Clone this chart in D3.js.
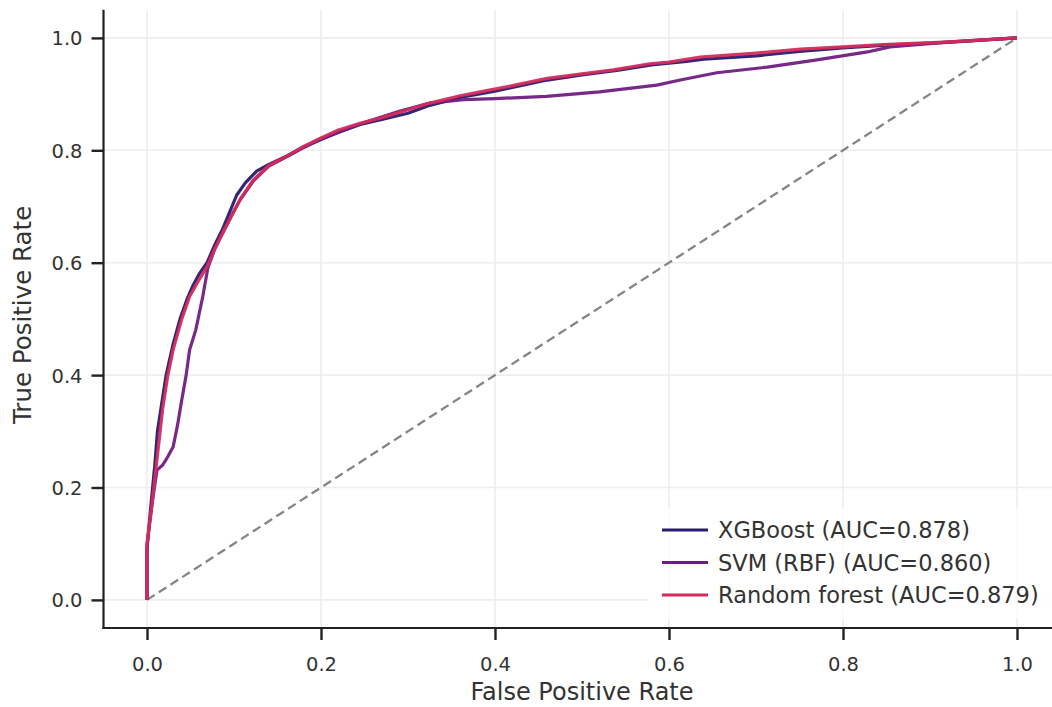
<!DOCTYPE html>
<html>
<head>
<meta charset="utf-8">
<script src="https://cdn.jsdelivr.net/npm/d3@7"></script>
<style>
  html, body { margin: 0; padding: 0; background: #ffffff; }
  svg { display: block; }
  text { font-family: "DejaVu Sans", sans-serif; }
</style>
</head>
<body>
<svg id="chart" width="1052" height="707"></svg>
<script>
// ---------- data ----------
const seriesNames = ["XGBoost", "SVM (RBF)", "Random forest"];
const aucValues = [0.878, 0.860, 0.879];
const tickValues = [0.0, 0.2, 0.4, 0.6, 0.8, 1.0];
const tickLabels = ["0.0", "0.2", "0.4", "0.6", "0.8", "1.0"];

const xgbFpr = [0, 0, 0.004, 0.009, 0.012, 0.016, 0.022, 0.030, 0.038, 0.046, 0.053, 0.060, 0.069, 0.078, 0.087, 0.095, 0.103, 0.113, 0.126, 0.140, 0.161, 0.18, 0.20, 0.22, 0.245, 0.27, 0.30, 0.325, 0.36, 0.40, 0.42, 0.46, 0.50, 0.54, 0.58, 0.62, 0.64, 0.70, 0.75, 0.80, 0.85, 0.92, 1.0];
const xgbTpr = [0, 0.09, 0.16, 0.24, 0.30, 0.34, 0.40, 0.455, 0.50, 0.535, 0.56, 0.58, 0.60, 0.632, 0.66, 0.69, 0.72, 0.742, 0.763, 0.775, 0.79, 0.806, 0.819, 0.832, 0.846, 0.855, 0.866, 0.880, 0.894, 0.905, 0.912, 0.925, 0.934, 0.942, 0.952, 0.958, 0.962, 0.968, 0.976, 0.982, 0.987, 0.992, 1.0];

const svmFpr = [0, 0, 0.006, 0.0115, 0.018, 0.024, 0.030, 0.035, 0.040, 0.045, 0.049, 0.056, 0.064, 0.070, 0.078, 0.087, 0.097, 0.107, 0.122, 0.14, 0.161, 0.18, 0.20, 0.245, 0.291, 0.325, 0.364, 0.40, 0.459, 0.52, 0.586, 0.613, 0.655, 0.713, 0.770, 0.828, 0.854, 0.923, 1.0];
const svmTpr = [0, 0.098, 0.173, 0.231, 0.240, 0.255, 0.272, 0.31, 0.356, 0.40, 0.445, 0.48, 0.539, 0.591, 0.625, 0.653, 0.683, 0.712, 0.745, 0.772, 0.789, 0.805, 0.82, 0.847, 0.870, 0.884, 0.890, 0.892, 0.896, 0.904, 0.916, 0.925, 0.938, 0.948, 0.961, 0.975, 0.984, 0.993, 1.0];

const rfFpr = [0, 0, 0.006, 0.0115, 0.018, 0.024, 0.030, 0.040, 0.049, 0.06, 0.069, 0.078, 0.087, 0.097, 0.107, 0.122, 0.14, 0.161, 0.18, 0.20, 0.22, 0.245, 0.27, 0.30, 0.325, 0.36, 0.383, 0.42, 0.46, 0.50, 0.536, 0.578, 0.60, 0.636, 0.70, 0.751, 0.80, 0.846, 0.923, 1.0];
const rfTpr = [0, 0.10, 0.173, 0.25, 0.34, 0.40, 0.445, 0.50, 0.54, 0.57, 0.593, 0.625, 0.653, 0.683, 0.712, 0.747, 0.773, 0.79, 0.807, 0.822, 0.836, 0.848, 0.858, 0.872, 0.884, 0.897, 0.904, 0.915, 0.928, 0.936, 0.943, 0.954, 0.957, 0.966, 0.973, 0.980, 0.984, 0.988, 0.993, 1.0];

const chanceLine = [0, 1];

// ---------- drawing ----------
(function () {
  const svg = d3.select("#chart");
  const L = 103.5, R = 1060.5, T = 9.8, B = 628;
  const colors = ["#2a1a6c", "#6f1e80", "#d42b5c"];

  const x = d3.scaleLinear().domain([-0.05, 1.05]).range([L, R]);
  const y = d3.scaleLinear().domain([-0.05, 1.05]).range([B, T]);

  // grid
  const grid = svg.append("g");
  grid.selectAll("line.gx").data(tickValues).join("line").attr("class", "gx")
    .attr("x1", d => x(d)).attr("x2", d => x(d))
    .attr("y1", T).attr("y2", B)
    .attr("stroke", "#eeeeee").attr("stroke-width", 1.6);
  grid.selectAll("line.gy").data(tickValues).join("line").attr("class", "gy")
    .attr("x1", L).attr("x2", R)
    .attr("y1", d => y(d)).attr("y2", d => y(d))
    .attr("stroke", "#eeeeee").attr("stroke-width", 1.6);

  // curves
  const series = [
    xgbFpr.map((f, i) => [f, xgbTpr[i]]),
    svmFpr.map((f, i) => [f, svmTpr[i]]),
    rfFpr.map((f, i) => [f, rfTpr[i]])
  ];
  const line = d3.line().x(d => x(d[0])).y(d => y(d[1]));

  svg.append("path")
    .attr("d", line(chanceLine.map(v => [v, v])))
    .attr("fill", "none").attr("stroke", "#858585")
    .attr("stroke-width", 2.3).attr("stroke-dasharray", "9,5");

  series.forEach((s, i) => {
    svg.append("path")
      .attr("d", line(s))
      .attr("fill", "none")
      .attr("stroke", colors[i])
      .attr("stroke-width", 3.2)
      .attr("stroke-linejoin", "round")
      .attr("stroke-opacity", 0.95);
  });

  // axes
  const xAxis = d3.axisBottom(x).tickValues(tickValues).tickFormat((d, i) => tickLabels[i]).tickSize(12).tickSizeOuter(0);
  const yAxis = d3.axisLeft(y).tickValues(tickValues).tickFormat((d, i) => tickLabels[i]).tickSize(12).tickSizeOuter(0);

  const gx = svg.append("g").attr("transform", `translate(0,${B})`).call(xAxis);
  const gy = svg.append("g").attr("transform", `translate(${L},0)`).call(yAxis);

  gx.select(".domain").remove();
  gy.select(".domain").remove();
  svg.append("line").attr("x1", L - 1).attr("x2", R).attr("y1", B).attr("y2", B)
    .attr("stroke", "#222").attr("stroke-width", 2.2);
  svg.append("line").attr("x1", L).attr("x2", L).attr("y1", T).attr("y2", B + 1)
    .attr("stroke", "#222").attr("stroke-width", 2.2);

  [gx, gy].forEach(g => {
    g.selectAll(".tick line").attr("stroke", "#222").attr("stroke-width", 2.4);
    g.selectAll(".tick text").attr("fill", "#333").style("font-size", "19.5px")
      .style("font-family", "DejaVu Sans, sans-serif");
  });
  gx.selectAll(".tick text").attr("y", 43).attr("dy", 0);
  gy.selectAll(".tick text").attr("x", -21).attr("dy", "0.36em");

  // axis labels
  svg.append("text").attr("x", (L + R) / 2).attr("y", 700)
    .attr("text-anchor", "middle").attr("fill", "#333").style("font-size", "24px")
    .text("False Positive Rate");
  svg.append("text")
    .attr("transform", `translate(31,${(T + B) / 2 - 4}) rotate(-90)`)
    .attr("text-anchor", "middle").attr("fill", "#333").style("font-size", "24.5px")
    .text("True Positive Rate");

  // legend
  const legend = svg.append("g");
  legend.append("rect").attr("x", 648).attr("y", 508).attr("width", 404).attr("height", 110)
    .attr("fill", "#ffffff").attr("fill-opacity", 0.8);
  const rowY = [530, 562.5, 595];
  seriesNames.forEach((name, i) => {
    legend.append("line").attr("x1", 662).attr("x2", 708).attr("y1", rowY[i]).attr("y2", rowY[i])
      .attr("stroke", colors[i]).attr("stroke-width", 3.2);
    legend.append("text").attr("x", 718).attr("y", rowY[i]).attr("dy", "0.36em")
      .attr("fill", "#333").style("font-size", "22.5px")
      .text(`${name} (AUC=${aucValues[i].toFixed(3)})`);
  });
})();
</script>
</body>
</html>
